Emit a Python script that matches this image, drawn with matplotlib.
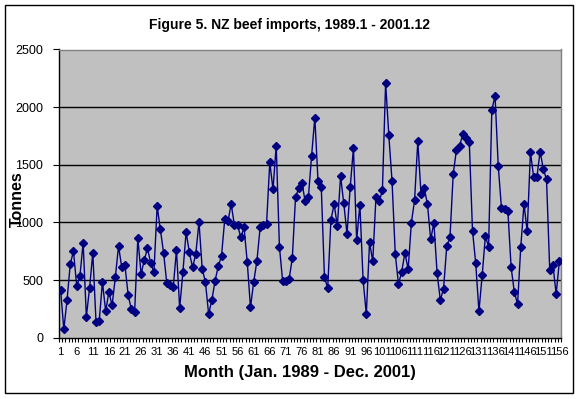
import numpy as np
import matplotlib
matplotlib.use('Agg')
import matplotlib.pyplot as plt
from matplotlib.patches import Rectangle

plt.rcParams['font.family'] = ['Liberation Sans', 'DejaVu Sans']

# =========================
# Datos (toneladas por mes, 1989.1 - 2001.12)
# =========================
tonnes = [
    413, 73, 327, 639, 751, 448, 535, 823, 182, 431,
    737, 136, 147, 483, 229, 396, 281, 523, 795, 610,
    627, 367, 246, 223, 864, 552, 673, 777, 645, 569,
    1141, 939, 737, 471, 459, 436, 760, 257, 569, 916,
    743, 610, 725, 1003, 598, 483, 205, 327, 494, 621,
    708, 1026, 1009, 1159, 979, 974, 870, 957, 656, 263,
    483, 665, 957, 974, 988, 1523, 1286, 1667, 789, 489,
    489, 506, 688, 1217, 1297, 1343, 1182, 1217, 1580, 1910,
    1355, 1309, 523, 431, 1020, 1159, 968, 1401, 1165, 899,
    1309, 1644, 847, 1153, 500, 205, 829, 662, 1222, 1182,
    1277, 2210, 1754, 1355, 725, 465, 572, 737, 593, 997,
    1193, 1707, 1245, 1297, 1159, 852, 997, 558, 327, 425,
    795, 870, 1419, 1627, 1667, 1765, 1731, 1696, 928, 645,
    229, 540, 881, 789, 1973, 2100, 1488, 1124, 1113, 1095,
    610, 396, 292, 789, 1159, 922, 1609, 1395, 1390, 1615,
    1465, 1373, 587, 627, 379, 667,
]
months = np.arange(1, len(tonnes) + 1)
xtick_pos = list(range(1, 157, 5))
ytick_pos = [0, 500, 1000, 1500, 2000, 2500]

titulo = 'Figure 5. NZ beef imports, 1989.1 - 2001.12'
xlab = 'Month (Jan. 1989 - Dec. 2001)'
ylab = 'Tonnes'

# =========================
# Figura
# =========================
W, H = 578, 399
fig = plt.figure(figsize=(W / 100, H / 100), dpi=100)
fig.patch.set_facecolor('white')

# marco exterior
fig.patches.append(Rectangle((4.5 / W, 1 - 392.5 / H), 568 / W, 388 / H,
                             transform=fig.transFigure, fill=False,
                             edgecolor='black', linewidth=1))

x0, x1, y0, y1 = 59, 561, 49.5, 337.7
ax = fig.add_axes([x0 / W, 1 - y1 / H, (x1 - x0) / W, (y1 - y0) / H])
ax.set_facecolor('#C0C0C0')

ax.plot(months, tonnes, color='#000080', linewidth=1,
        marker='D', markersize=4.3, markerfacecolor='#000080',
        markeredgecolor='#000080', zorder=3)

ax.set_xlim(0.5, len(tonnes) + 0.5)
ax.set_ylim(0, 2500)

ax.set_yticks(ytick_pos)
ax.set_yticklabels([str(v) for v in ytick_pos], fontsize=9)
for v in ytick_pos[1:-1]:
    ax.axhline(v, color='black', linewidth=1, zorder=1)

ax.set_xticks(xtick_pos)
ax.set_xticklabels([str(v) for v in xtick_pos], fontsize=8)
ax.set_xticks(np.arange(0.5, len(tonnes) + 1, 1), minor=True)
ax.tick_params(axis='x', which='major', length=0, pad=7)
ax.tick_params(axis='x', which='minor', length=3, width=0.8, direction='out')
ax.tick_params(axis='y', length=4.5, width=0.8, direction='out', pad=7)

for s in ['top', 'right']:
    ax.spines[s].set_color('#808080')
    ax.spines[s].set_linewidth(1)
for s in ['left', 'bottom']:
    ax.spines[s].set_color('black')
    ax.spines[s].set_linewidth(1)

fig.text(289 / W, 1 - 25 / H, titulo, ha='center', va='center',
         fontsize=10, fontweight='bold')
fig.text(300 / W, 1 - 373 / H, xlab, ha='center', va='center',
         fontsize=12, fontweight='bold')
fig.text(17 / W, 1 - 199 / H, ylab, ha='center', va='center',
         fontsize=11.5, fontweight='bold', rotation=90)

fig.savefig('out.png', dpi=100)
